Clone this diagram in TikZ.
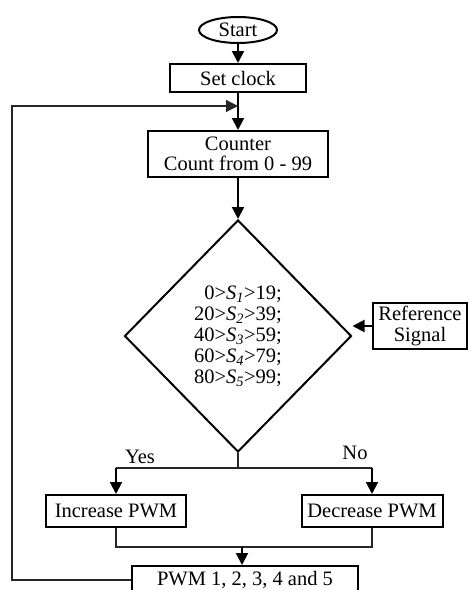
\documentclass[tikz,border=0pt]{standalone}
\usepackage{fontspec}
\setmainfont{Liberation Serif}
\usetikzlibrary{arrows.meta,shapes.geometric}
\begin{document}
\begin{tikzpicture}[x=1pt,y=-1pt,
  every node/.style={font=\fontsize{20.5}{21}\selectfont, inner sep=0pt},
  box/.style={draw, line width=2pt, rectangle, align=center},
  thk/.style={line width=2pt, -{Triangle[length=12pt,width=12pt]}},
  thn/.style={line width=1.2pt, draw=black!85},
  thntip/.style={line width=1.2pt, draw=black!85, -{Triangle[length=12pt,width=12pt]}}]
\useasboundingbox (0,0) rectangle (469,590);
\clip (0,0) rectangle (469,590);
\node[draw, line width=2pt, ellipse, minimum width=78pt, minimum height=26pt] (start) at (238,30) {Start};
\node[box, minimum width=136pt, minimum height=28pt] (clk) at (238,78) {Set clock};
\node[box, minimum width=180pt, minimum height=46pt, font=\fontsize{20.5}{20}\selectfont] (cnt) at (238,154) {Counter\\Count from 0 - 99};
\node[draw, line width=2pt, diamond, minimum width=227pt, minimum height=232pt, align=right] (dia) at (238,336)
  {0>\textit{S}\textsubscript{\textit{1}}>19;\\
   20>\textit{S}\textsubscript{\textit{2}}>39;\\
   40>\textit{S}\textsubscript{\textit{3}}>59;\\
   60>\textit{S}\textsubscript{\textit{4}}>79;\\
   80>\textit{S}\textsubscript{\textit{5}}>99;};
\node[box, minimum width=94pt, minimum height=46pt] (ref) at (420,326) {Reference\\Signal};
\node[box, minimum width=140pt, minimum height=32pt] (inc) at (116,511) {Increase PWM};
\node[box, minimum width=141pt, minimum height=32pt] (dec) at (372,511) {Decrease PWM};
\node[box, minimum width=226pt, minimum height=38pt, text height=14pt, text depth=14pt] (pwm) at (245,585) {PWM 1, 2, 3, 4 and 5};
\node (yes) at (140,457) {Yes};
\node (no) at (355,453) {No};
\coordinate (j1) at (238,106);
\coordinate (lft) at (12,106);
\coordinate (lb) at (12,580);
\coordinate (split) at (238,468);
\coordinate (merge) at (242,547);
\draw[thk] (start) -- (clk);
\draw[thk] (clk.south) -- (cnt.north);
\draw[thntip] (lb -| pwm.west) -- (lb) -- (lft) -- (j1);
\draw[thk] (cnt.south) -- (dia.north);
\draw[thk] (ref.west) -- (ref.west -| dia.east);
\draw[thn] (dia.south) -- (split);
\draw[thn] (split -| inc.north) -- (split -| dec.north);
\draw[thk] (split -| inc.north) -- (inc.north);
\draw[thk] (split -| dec.north) -- (dec.north);
\draw[thn] (inc.south) |- (dec.south |- merge) -- (dec.south);
\draw[thk] (merge) -- (merge |- pwm.north);
\end{tikzpicture}
\end{document}
